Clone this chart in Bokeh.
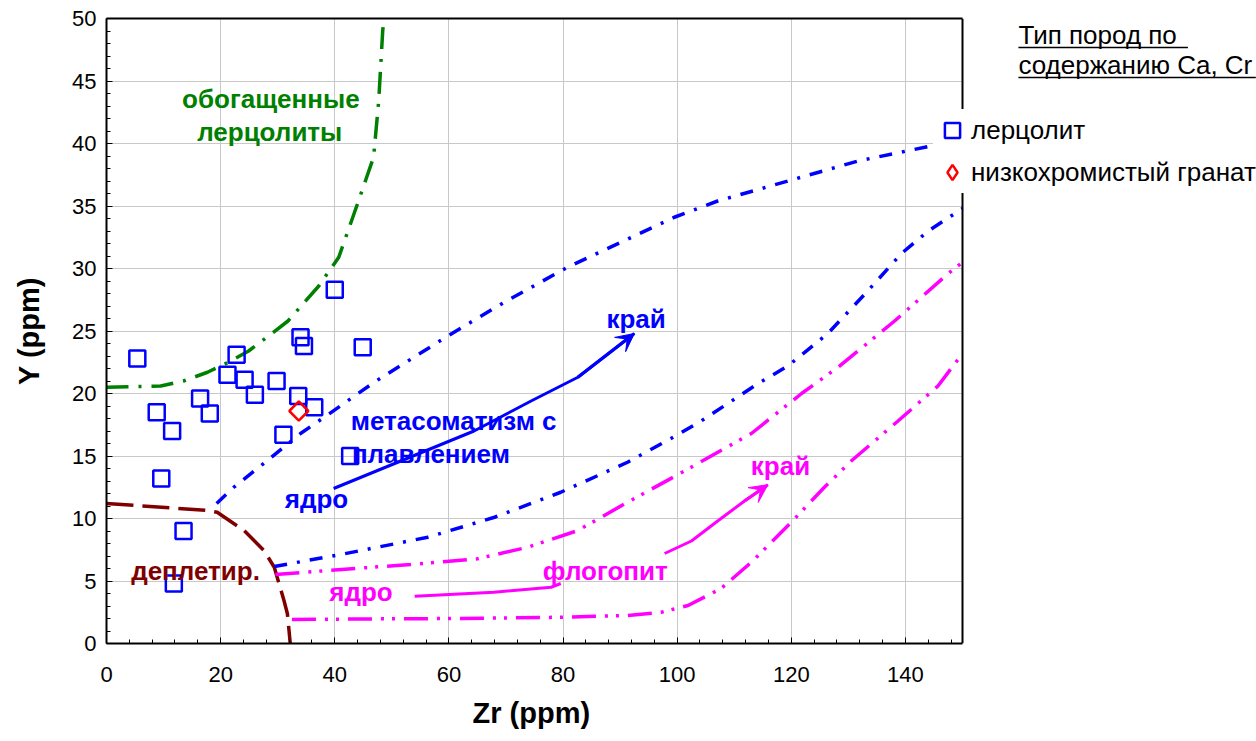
from bokeh.plotting import figure
from bokeh.models import (Label, Arrow, VeeHead, Legend, LegendItem, LinearAxis, FixedTicker,
                          SingleIntervalTicker, Range1d, BoxAnnotation, Span, Title)
from bokeh.embed import file_html
from bokeh.resources import INLINE

# ---------------- data ----------------
lherz_x = [5.4, 8.8, 11.5, 9.6, 13.5, 11.8, 16.4, 18.1, 22.8, 21.2, 24.2, 26.0,
           29.8, 33.6, 36.4, 31.0, 34.0, 34.6, 44.9, 42.7, 40.0]
lherz_y = [22.8, 18.5, 17.0, 13.2, 9.0, 4.8, 19.6, 18.4, 23.1, 21.5, 21.1, 19.9,
           21.0, 19.8, 18.9, 16.7, 24.5, 23.8, 23.7, 15.0, 28.3]
lowcr_x = [33.7]
lowcr_y = [18.6]

enriched_x = [0, 9.5, 13.5, 17.7, 21.4, 24.9, 28.4, 31.8, 37.2, 40.7, 44.0, 46.8, 47.7, 48.4, 48.6]
enriched_y = [20.5, 20.6, 21.0, 21.7, 22.5, 23.4, 24.6, 25.8, 28.6, 30.9, 35.2, 38.9, 43.4, 49.0, 50.0]

depleted_x = [0, 17.7, 19.4, 24.1, 27.6, 29.4, 31.1, 31.7, 32.2]
depleted_y = [11.2, 10.64, 10.5, 9.04, 7.44, 6.1, 3.44, 2.38, 0]

melt_upper_x = [19.3, 22.3, 27.0, 34.0, 38.8, 46.9, 59.8, 69.7, 80.8, 92.5, 99.5, 107.1, 119.4, 131.7, 143.4, 150.0]
melt_upper_y = [11.2, 12.5, 14.2, 16.8, 18.3, 20.9, 24.6, 27.3, 30.1, 32.6, 34.1, 35.4, 37.0, 38.6, 39.7, 40.4]

melt_lower_x = [29.4, 41.6, 56.3, 68.0, 79.6, 91.3, 98.9, 104.2, 114.2, 119.4, 126.4, 133.4, 139.3, 144.0, 150.0]
melt_lower_y = [6.16, 7.17, 8.5, 10.1, 12.1, 14.5, 16.4, 17.8, 20.8, 22.2, 24.8, 28.2, 31.2, 33.0, 34.8]

phl_upper_x = [29.6, 38.7, 53.3, 65.0, 73.8, 82.6, 91.3, 100.1, 113.0, 121.8, 128.2, 138.1, 147.5, 150.0]
phl_upper_y = [5.52, 5.84, 6.32, 6.78, 7.7, 9.04, 11.3, 13.5, 16.8, 20.0, 22.1, 25.8, 29.6, 30.5]

phl_lower_x = [32.5, 47.5, 62.1, 79.6, 91.3, 97.2, 101.9, 107.7, 113.0, 120.0, 125.8, 130.5, 138.7, 145.7, 150.0]
phl_lower_y = [1.92, 1.97, 2.0, 2.1, 2.24, 2.5, 3.04, 4.4, 6.5, 9.7, 12.5, 14.6, 17.8, 20.6, 23.2]

melt_arrow_x = [39.8, 64.4, 74.4, 82.6, 92.5]
melt_arrow_y = [12.4, 17.0, 19.4, 21.3, 24.8]

phl_core_x = [54.0, 67.9, 77.9, 79.6]
phl_core_y = [3.78, 4.1, 4.5, 4.8]

phl_arrow_x = [97.8, 102.5, 107.1, 111.8, 115.9]
phl_arrow_y = [7.2, 8.2, 9.8, 11.4, 12.7]

x_tick_step = 20
y_tick_step = 5
x_max = 150
y_max = 50

# ---------------- figure ----------------
FONT = "Liberation Sans"
BLUE = "#0000FF"
MAG = "#FF00FF"
GREEN = "#008000"
MAROON = "#800000"

FRAME_W = 1150
PLOT_W = 856  # pixel width of the 0..150 plotting area
x_end = x_max * FRAME_W / PLOT_W

p = figure(width=1256, height=741, x_range=Range1d(0, x_end), y_range=Range1d(0, y_max),
           output_backend="svg", toolbar_location=None,
           min_border_left=106, min_border_right=0, min_border_top=18, min_border_bottom=98)
p.background_fill_color = "white"
p.border_fill_color = "white"
p.outline_line_color = None

p.xaxis.ticker = SingleIntervalTicker(interval=x_tick_step, num_minor_ticks=5)
p.yaxis.ticker = SingleIntervalTicker(interval=y_tick_step, num_minor_ticks=5)
p.xaxis.bounds = (0, x_max)
for ax in (p.xaxis, p.yaxis):
    ax.axis_line_color = "black"
    ax.axis_line_width = 2
    ax.major_tick_in = 6
    ax.major_tick_out = 0
    ax.minor_tick_in = 4
    ax.minor_tick_out = 0
    ax.major_tick_line_color = "black"
    ax.minor_tick_line_color = "black"
    ax.major_label_text_font = FONT
    ax.major_label_text_font_size = "22px"
    ax.major_label_text_color = "black"
    ax.axis_label_text_font = FONT
    ax.axis_label_text_font_size = "29px"
    ax.axis_label_text_font_style = "bold"
    ax.axis_label_text_color = "black"
p.yaxis.axis_label = "Y (ppm)"
p.xaxis.major_label_standoff = 23
p.yaxis.major_label_standoff = 10
p.yaxis.axis_label_standoff = 24

# x-axis title, centred under the 0..150 plotting area
p.add_layout(Title(text="Zr (ppm)", align="left", offset=366, standoff=21,
                   text_font=FONT, text_font_size="29px", text_font_style="bold",
                   text_color="black"), "below")

# top border of the plotting area
top_axis = LinearAxis(bounds=(0, x_max), ticker=FixedTicker(ticks=[]),
                      major_tick_in=0, major_tick_out=0, minor_tick_in=0, minor_tick_out=0,
                      axis_line_color="black", axis_line_width=2)
p.add_layout(top_axis, "above")

p.xgrid.grid_line_color = "#c8c8c8"
p.ygrid.grid_line_color = "#c8c8c8"
p.xgrid.grid_line_width = 1
p.ygrid.grid_line_width = 1

# blank the area right of the plotting region
p.add_layout(BoxAnnotation(left=x_max, fill_color="white", fill_alpha=1.0,
                           line_color=None, level="underlay"))
# right border of the plotting area
p.add_layout(Span(location=x_max, dimension="height", line_color="black", line_width=2))

# ---------------- curves ----------------
LW = 3.5
p.line(enriched_x, enriched_y, line_color=GREEN, line_width=LW, line_dash="22 10 3 10")
p.line(depleted_x, depleted_y, line_color=MAROON, line_width=LW, line_dash="27 9")
p.line(melt_upper_x, melt_upper_y, line_color=BLUE, line_width=LW, line_dash="13 10 3 10")
p.line(melt_lower_x, melt_lower_y, line_color=BLUE, line_width=LW, line_dash="13 10 3 10")
p.line(phl_upper_x, phl_upper_y, line_color=MAG, line_width=LW, line_dash="24 9 3 8 3 9")
p.line(phl_lower_x, phl_lower_y, line_color=MAG, line_width=LW, line_dash="24 9 3 8 3 9")

# arrows
p.line(melt_arrow_x, melt_arrow_y, line_color=BLUE, line_width=3)
p.add_layout(Arrow(end=VeeHead(size=18, fill_color=BLUE, line_color=BLUE),
                   x_start=melt_arrow_x[-2], y_start=melt_arrow_y[-2],
                   x_end=melt_arrow_x[-1], y_end=melt_arrow_y[-1],
                   line_color=BLUE, line_width=3))
p.line(phl_core_x, phl_core_y, line_color=MAG, line_width=3)
p.line(phl_arrow_x, phl_arrow_y, line_color=MAG, line_width=3)
p.add_layout(Arrow(end=VeeHead(size=18, fill_color=MAG, line_color=MAG),
                   x_start=phl_arrow_x[-2], y_start=phl_arrow_y[-2],
                   x_end=phl_arrow_x[-1], y_end=phl_arrow_y[-1],
                   line_color=MAG, line_width=3))

# ---------------- points ----------------
sq = p.scatter(lherz_x, lherz_y, marker="square", size=16, fill_color=None,
               line_color=BLUE, line_width=2.5)
dm = p.scatter(lowcr_x, lowcr_y, marker="square", size=13.5, angle=0.785398,
               fill_color=None, line_color="#FF0000", line_width=2.5)
# hidden twin used only to draw the legend symbol
dm_leg = p.scatter(lowcr_x, lowcr_y, marker="diamond", size=16, fill_color=None,
                   line_color="#FF0000", line_width=2.5, visible=False)

# ---------------- text labels ----------------
def lab(x, y, t, color, align="center"):
    p.add_layout(Label(x=x, y=y, text=t, text_color=color, text_font=FONT,
                       text_font_size="26px", text_font_style="bold",
                       text_align=align, text_baseline="middle"))

lab(28.8, 43.6, "обогащенные", GREEN)
lab(28.6, 40.9, "лерцолиты", GREEN)
lab(42.8, 17.8, "метасоматизм с", BLUE, "left")
lab(43.0, 15.2, "плавлением", BLUE, "left")
lab(36.8, 11.6, "ядро", BLUE)
lab(92.8, 26.0, "край", BLUE)
lab(15.6, 5.84, "деплетир.", MAROON)
lab(44.6, 4.16, "ядро", MAG)
lab(87.4, 5.84, "флогопит", MAG)
lab(118.1, 14.24, "край", MAG)

# ---------------- legend ----------------
legend = Legend(items=[LegendItem(label="лерцолит", renderers=[sq]),
                       LegendItem(label="низкохромистый гранат", renderers=[dm_leg])],
                location=(827, 450), glyph_width=38, glyph_height=42, spacing=-3,
                padding=0, margin=0, label_standoff=0,
                label_text_font=FONT, label_text_font_size="26px", label_text_color="black",
                background_fill_color="white", background_fill_alpha=1.0,
                inactive_fill_alpha=0.0, border_line_color=None)
p.add_layout(legend)

# legend title (underlined)
p.add_layout(Label(x=159.8, y=48.66, text="Тип пород по", text_font=FONT,
                   text_font_size="26px", text_color="black",
                   text_align="left", text_baseline="middle"))
p.add_layout(Label(x=159.8, y=46.26, text="содержанию Ca, Cr", text_font=FONT,
                   text_font_size="26px", text_color="black",
                   text_align="left", text_baseline="middle"))
p.add_layout(Arrow(end=None, x_start=159.8, y_start=47.68, x_end=189.5, y_end=47.68,
                   line_color="black", line_width=1.5))
p.add_layout(Arrow(end=None, x_start=159.8, y_start=45.28, x_end=201.4, y_end=45.28,
                   line_color="black", line_width=1.5))

open("out.html", "w").write(file_html(p, INLINE))
